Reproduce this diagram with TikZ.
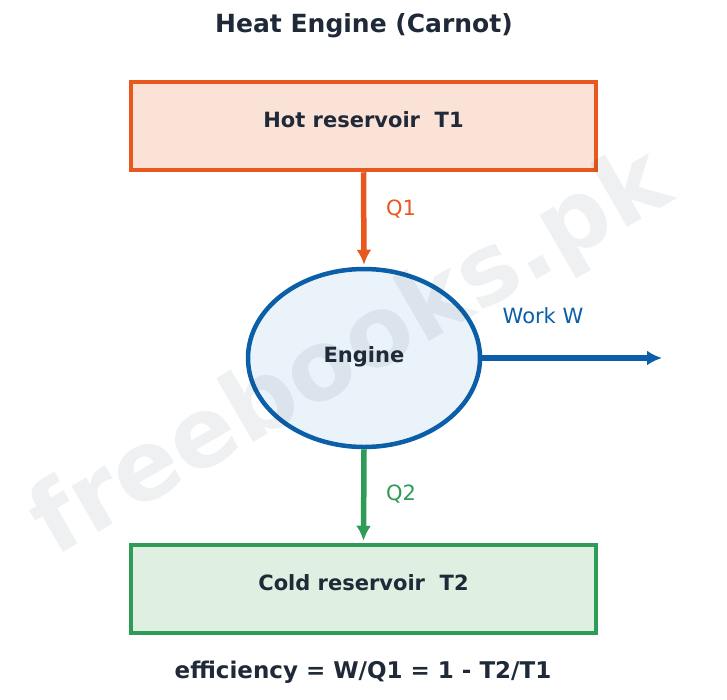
\documentclass[tikz,border=0pt]{standalone}
\usepackage{fontspec}
\setmainfont{DejaVu Sans}
\usetikzlibrary{shapes.geometric,arrows.meta}

\definecolor{hotline}{HTML}{E8571E}
\definecolor{hotfill}{HTML}{FBE2D7}
\definecolor{coldline}{HTML}{2E9B57}
\definecolor{coldfill}{HTML}{DFEFE2}
\definecolor{engline}{HTML}{0B5EA8}
\definecolor{engfill}{HTML}{EAF2FA}
\definecolor{ink}{HTML}{1F2937}

\tikzset{
  resbox/.style={draw, line width=4.5pt, minimum width=465pt, minimum height=88pt, inner sep=0pt},
  flow/.style={line width=5.5pt, -{Latex[length=15pt,width=15pt]}, shorten >=2pt},
  boxtext/.style={font=\fontsize{21}{25}\selectfont\bfseries, text=ink},
  flowlabel/.style={font=\fontsize{21}{25}\selectfont}
}

\begin{document}
\begin{tikzpicture}[x=1pt,y=-1pt]
            \useasboundingbox (0,0) rectangle (727,699);

            \node[font=\fontsize{25}{30}\selectfont\bfseries, text=ink] (title) at (364,26) {Heat Engine (Carnot)};

            \node[resbox, draw=hotline, fill=hotfill] (hot) at (363.5,126) {};
            \node[boxtext] (hottext) at (363.5,120) {Hot reservoir\ \ T1};

            \node[ellipse, draw=engline, fill=engfill, line width=4.5pt,
                  minimum width=232pt, minimum height=178pt, inner sep=0pt] (engine) at (364,358) {};
            \node[boxtext] (engtext) at (364,357) {Engine};

            \node[resbox, draw=coldline, fill=coldfill] (cold) at (363.5,589) {};
            \node[boxtext] (coldtext) at (363.5,583) {Cold reservoir\ \ T2};

            \coordinate (workend) at (662,358);

            \draw[flow, hotline] (hot.south) -- (engine.north);
            \draw[flow, coldline] (engine.south) -- (cold.north);
            \draw[flow, engline, shorten >=0pt] (engine.east) -- (workend);

            \node[flowlabel, text=hotline] (qone) at (401,209) {Q1};
            \node[flowlabel, text=coldline] (qtwo) at (401,494) {Q2};
            \node[flowlabel, text=engline] (work) at (543,316) {Work W};

            \node[font=\fontsize{23}{28}\selectfont\bfseries, text=ink] (eff) at (363,672) {efficiency = W/Q1 = 1 - T2/T1};

            \node[font=\fontsize{97}{110}\selectfont\bfseries, text=ink, opacity=0.07, rotate=30] (mark) at (352,355) {freebooks.pk};
        \end{tikzpicture}
\end{document}
